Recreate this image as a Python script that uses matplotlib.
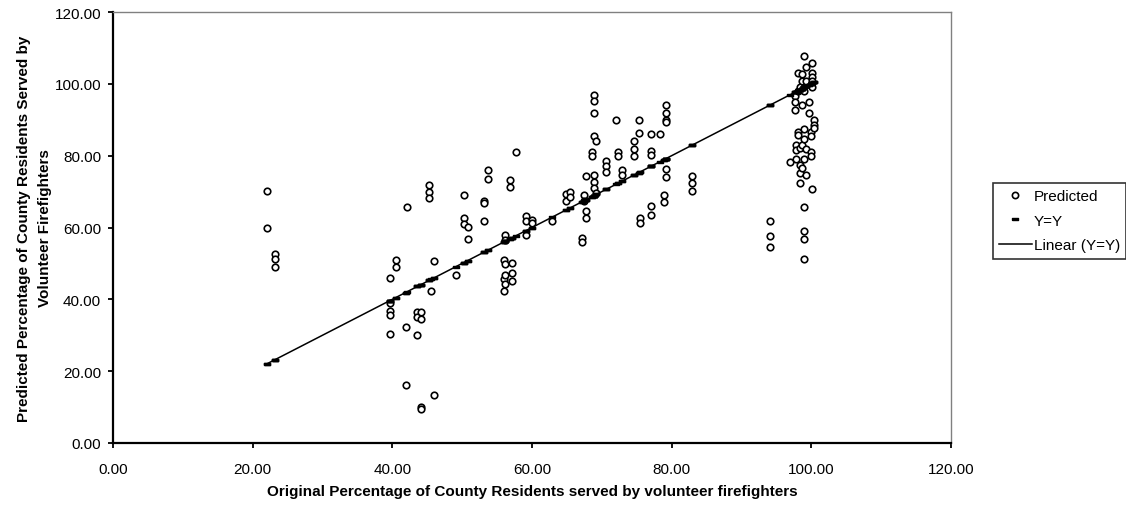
import matplotlib
matplotlib.use('Agg')
import matplotlib.pyplot as plt
from matplotlib.lines import Line2D
from matplotlib.ticker import FormatStrFormatter, MultipleLocator

plt.rcParams['font.family'] = ['Liberation Sans', 'DejaVu Sans']

# original percentage (x) and predicted percentage (y), one entry per county
orig_pct = [
    22.1, 22.1,
    23.2, 23.2, 23.2,
    39.6, 39.6, 39.6, 39.6, 39.6,
    40.5, 40.5,
    41.9, 41.9,
    42.1,
    43.6, 43.6, 43.6,
    44.1, 44.1, 44.1, 44.1,
    45.3, 45.3, 45.3,
    45.6,
    45.9, 45.9,
    49.1,
    50.2, 50.2, 50.2,
    50.8, 50.8,
    53.1, 53.1, 53.1,
    53.7, 53.7,
    56.0, 56.0, 56.0,
    56.2, 56.2, 56.2, 56.2, 56.2,
    56.8, 56.8,
    57.1, 57.1, 57.1,
    57.7,
    59.1, 59.1, 59.1,
    60.0, 60.0,
    62.8,
    64.8, 64.8,
    65.4, 65.4,
    67.1, 67.1,
    67.4, 67.4,
    67.7, 67.7, 67.7,
    68.6, 68.6,
    68.9, 68.9, 68.9, 68.9, 68.9, 68.9, 68.9,
    69.2, 69.2,
    70.6, 70.6, 70.6,
    72.0,
    72.3, 72.3,
    72.9, 72.9,
    74.6, 74.6, 74.6,
    75.3, 75.3,
    75.5, 75.5,
    77.1, 77.1, 77.1, 77.1, 77.1,
    78.3,
    79.2, 79.2, 79.2, 79.2, 79.2, 79.2,
    78.9, 78.9,
    82.9, 82.9, 82.9,
    94.1, 94.1, 94.1,
    97.0,
    97.6, 97.6, 97.6,
    97.8, 97.8, 97.8,
    98.1, 98.1, 98.1, 98.1,
    98.4, 98.4, 98.4, 98.4, 98.4,
    98.7, 98.7, 98.7, 98.7, 98.7,
    99.0, 99.0, 99.0, 99.0, 99.0, 99.0, 99.0, 99.0, 99.0,
    99.3, 99.3, 99.3, 99.3,
    99.6, 99.6,
    99.9, 99.9, 99.9, 99.9,
    100.1, 100.1, 100.1, 100.1, 100.1, 100.1,
    100.4, 100.4, 100.4,
]
pred_pct = [
    70.3, 60.0,
    52.6, 51.3, 49.1,
    46.0, 39.0, 36.7, 35.6, 30.3,
    50.9, 49.1,
    32.4, 16.2,
    65.8,
    36.4, 35.0, 30.2,
    36.4, 34.5, 10.0, 9.5,
    71.9, 69.8, 68.2,
    42.4,
    50.8, 13.5,
    46.9,
    69.1, 62.6, 60.9,
    60.2, 56.9,
    67.5, 66.9, 61.8,
    75.9, 73.5,
    50.9, 45.7, 42.4,
    58.0, 56.5, 49.7, 46.9, 44.2,
    73.2, 71.4,
    50.2, 47.4, 45.2,
    80.9,
    63.1, 61.8, 58.0,
    62.0, 61.3,
    61.8,
    69.2, 67.5,
    69.8, 68.4,
    57.0, 55.9,
    69.1, 67.5,
    74.2, 64.7, 62.6,
    81.0, 79.9,
    96.9, 95.1, 91.9, 85.4, 74.7, 72.8, 70.9,
    84.2, 69.6,
    78.6, 77.1, 75.4,
    89.8,
    81.0, 79.9,
    76.0, 74.7,
    84.2, 81.9, 79.9,
    89.8, 86.2,
    62.6, 61.3,
    85.9, 81.4, 80.3, 66.1, 63.5,
    85.9,
    94.2, 91.9, 89.8, 89.3, 76.3, 74.0,
    69.1, 67.0,
    74.3, 72.3, 70.3,
    61.9, 57.5, 54.7,
    78.2,
    96.7, 94.9, 92.8,
    83.0, 81.6, 79.1,
    103.1, 98.1, 86.5, 85.8,
    99.2, 82.2, 77.4, 75.2, 72.4,
    102.6, 100.9, 94.1, 83.0, 76.5,
    107.7, 98.1, 87.5, 84.7, 79.1, 65.8, 59.1, 56.8, 51.3,
    104.8, 100.9, 81.9, 74.5,
    94.9, 92.0,
    86.5, 85.6, 81.1, 79.9,
    105.9, 103.1, 102.0, 100.9, 99.2, 70.8,
    89.9, 88.6, 87.7,
]

# Excel-style flat dash marker for the Y=Y series
dash = [(-1, -0.5), (1, -0.5), (1, 0.5), (-1, 0.5), (-1, -0.5)]

fig = plt.figure(figsize=(11.26, 5.06), dpi=100)
ax = fig.add_axes([113 / 1126, 62 / 506, 838 / 1126, 431 / 506])

ax.scatter(orig_pct, pred_pct, s=22, facecolors='white', edgecolors='black',
           linewidths=1.2, zorder=2)
# Y=Y series and its linear trend line
x_lo, x_hi = min(orig_pct), max(orig_pct)
ax.plot([x_lo, x_hi], [x_lo, x_hi], color='black', lw=1.1, zorder=3)
ax.plot(orig_pct, orig_pct, ls='none', marker=dash, ms=3.8, color='black', zorder=4)

ax.set_xlim(0, 120)
ax.set_ylim(0, 120)
ax.xaxis.set_major_locator(MultipleLocator(20))
ax.yaxis.set_major_locator(MultipleLocator(20))
ax.xaxis.set_major_formatter(FormatStrFormatter('%.2f'))
ax.yaxis.set_major_formatter(FormatStrFormatter('%.2f'))
ax.tick_params(direction='out', length=3.5, width=1.3, labelsize=11)
ax.tick_params(axis='x', pad=10)
ax.tick_params(axis='y', pad=5)

ax.spines['left'].set_linewidth(1.6)
ax.spines['bottom'].set_linewidth(1.6)
for side in ('top', 'right'):
    ax.spines[side].set_color('#808080')
    ax.spines[side].set_linewidth(1)

ax.set_xlabel('Original Percentage of County Residents served by volunteer firefighters',
              fontsize=11, fontweight='bold', labelpad=6)
ax.set_ylabel('Predicted Percentage of County Residents Served by\nVolunteer Firefighters',
              fontsize=11, fontweight='bold', labelpad=2, linespacing=1.6)

handles = [
    Line2D([], [], ls='none', marker='o', ms=4.5, mfc='white', mec='black', mew=1.2),
    Line2D([], [], ls='none', marker=dash, ms=3.8, color='black'),
    Line2D([], [], color='black', lw=1.1),
]
leg = fig.legend(handles, ['Predicted', 'Y=Y', 'Linear (Y=Y)'],
                 loc='upper left', bbox_to_anchor=(993 / 1126, 1 - 184 / 506),
                 fontsize=11, frameon=True, fancybox=False, handlelength=2.1,
                 handletextpad=0.15, borderpad=0.42, labelspacing=0.68,
                 borderaxespad=0)
leg.get_frame().set_edgecolor('black')
leg.get_frame().set_linewidth(1.2)

fig.savefig('out.png', dpi=100)
plt.close(fig)
